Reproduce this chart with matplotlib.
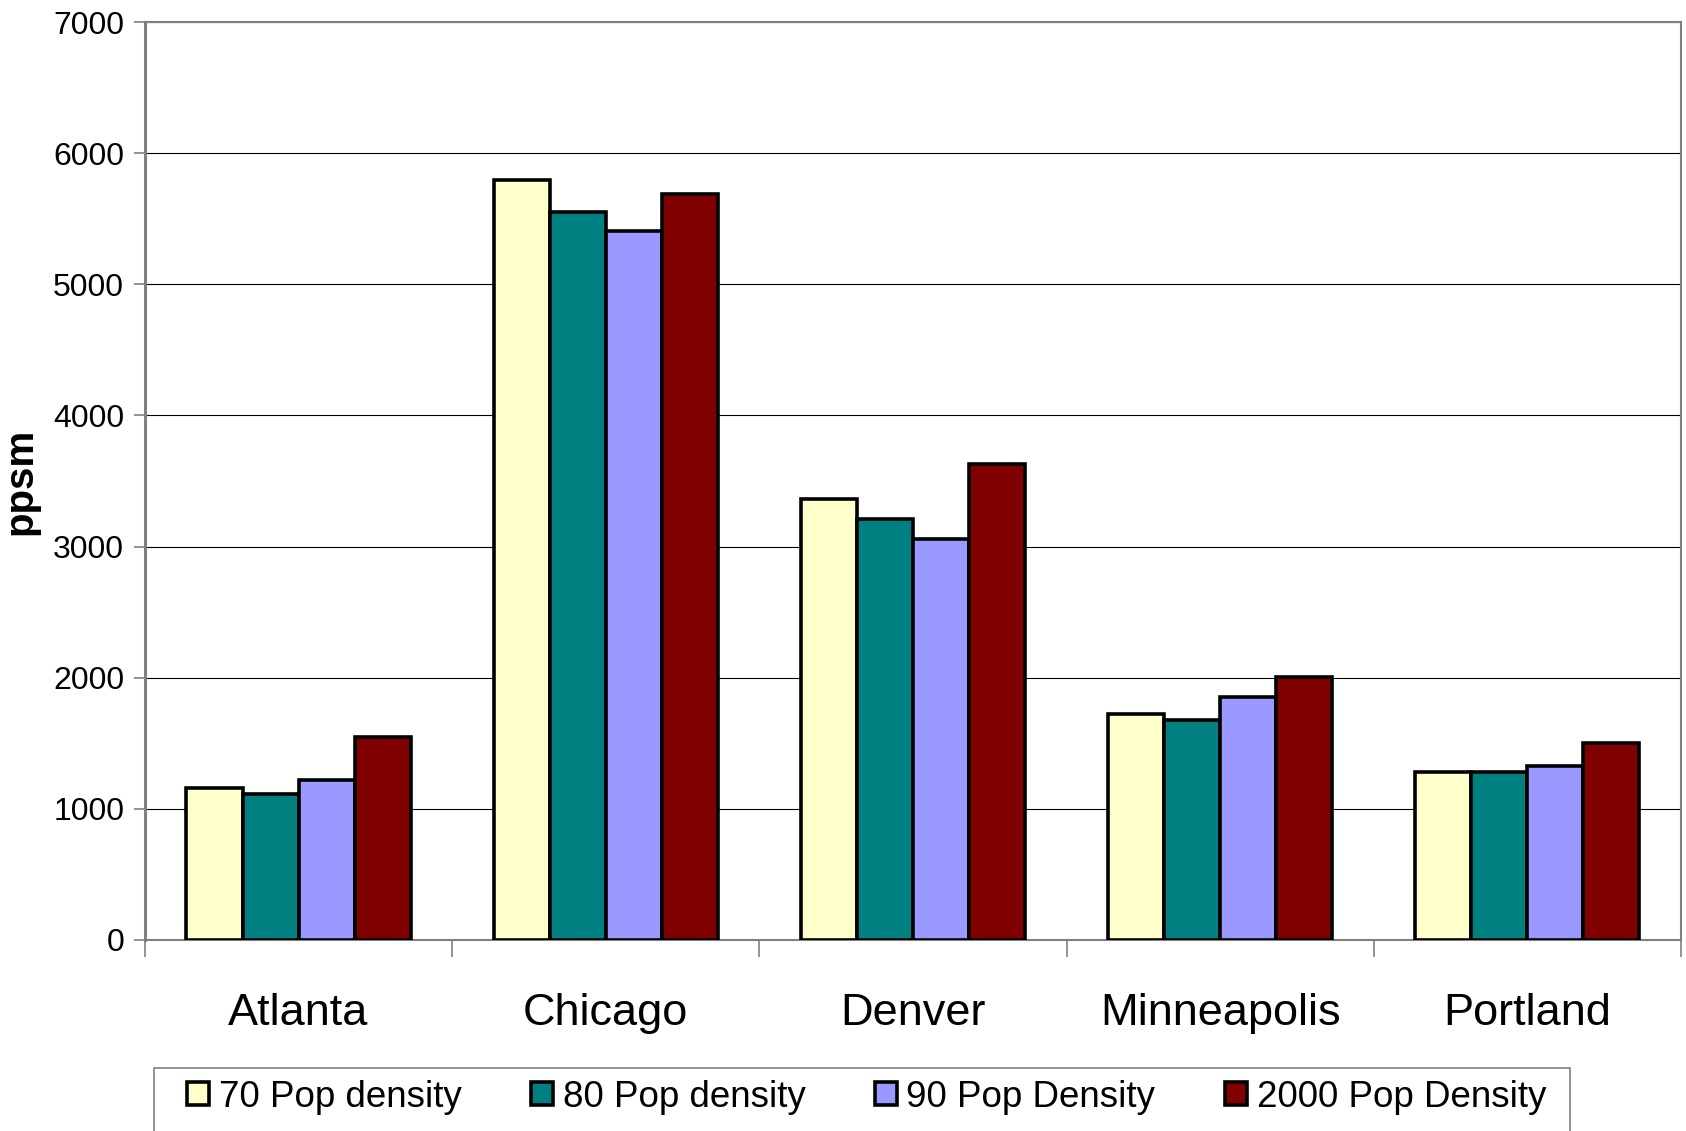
import matplotlib.pyplot as plt
import numpy as np
from matplotlib.patches import Rectangle

cities = ['Atlanta', 'Chicago', 'Denver', 'Minneapolis', 'Portland']
series_names = ['70 Pop density', '80 Pop density', '90 Pop Density', '2000 Pop Density']
pop70 = [1157, 5792, 3366, 1724, 1284]
pop80 = [1111, 5553, 3211, 1678, 1284]
pop90 = [1220, 5403, 3056, 1856, 1327]
pop2000 = [1551, 5688, 3631, 2008, 1505]
yticks = [0, 1000, 2000, 3000, 4000, 5000, 6000, 7000]

colors = ['#FFFFCC', '#008080', '#9999FF', '#800000']

plt.rcParams['font.family'] = ['Liberation Sans', 'DejaVu Sans']

fig = plt.figure(figsize=(16.86, 11.31), dpi=100)
ax = fig.add_axes([0.086, 0.169, 0.911, 0.8115])

x = np.arange(len(cities))
w = 0.73 / 4
for i, (vals, name) in enumerate(zip([pop70, pop80, pop90, pop2000], series_names)):
    ax.bar(x + (i - 1.5) * w, vals, width=w, color=colors[i], edgecolor='black',
           linewidth=2.6, label=name, zorder=3)

ax.set_xlim(-0.5, len(cities) - 0.5)
ax.set_ylim(0, 7000)
ax.set_yticks(yticks)
ax.set_yticklabels([str(v) for v in yticks], fontsize=23)
ax.yaxis.grid(True, color='black', linewidth=0.8, zorder=0)
ax.tick_params(axis='y', length=8, width=1.2, color='#808080', pad=7)

ax.set_xticks(x)
ax.set_xticklabels(cities, fontsize=32.5)
ax.tick_params(axis='x', which='major', length=0, pad=38)
ax.set_xticks(np.arange(len(cities) + 1) - 0.5, minor=True)
ax.tick_params(axis='x', which='minor', length=12, width=1.2, color='#808080')

for s in ax.spines.values():
    s.set_color('#808080')
    s.set_linewidth(1.5)
ax.spines['left'].set_linewidth(2.2)

ax.set_ylabel('ppsm', fontsize=29, fontweight='bold', labelpad=10)

# legend box runs off the bottom edge in the original, so draw it separately
fig.patches.append(Rectangle((154 / 1686, -0.05), (1570 - 154) / 1686, 0.05 + (1 - 1068 / 1131),
                             transform=fig.transFigure, fill=False,
                             edgecolor='#808080', linewidth=1.2))
leg = fig.legend(loc='center', bbox_to_anchor=(0.514, 0.030), ncol=4,
                 prop={'size': 26.5}, frameon=False,
                 handlelength=0.6, handleheight=0.6, handletextpad=0.25,
                 columnspacing=1.9, borderpad=0, borderaxespad=0)

fig.savefig('out.png', dpi=100)
